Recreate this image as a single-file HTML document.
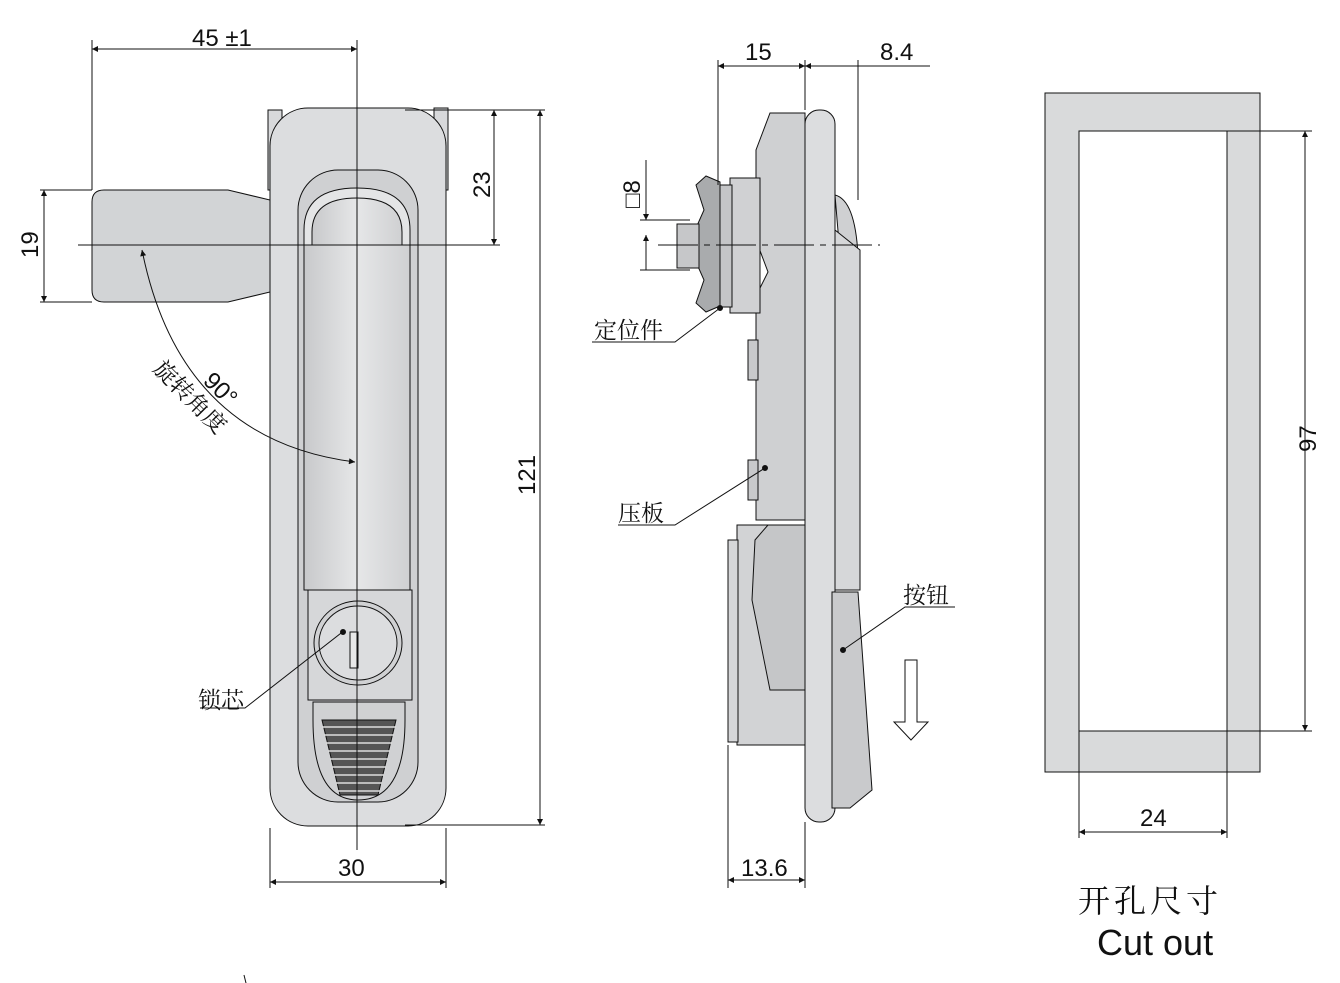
<!DOCTYPE html>
<html><head><meta charset="utf-8"><style>
html,body{margin:0;padding:0;background:#fff;width:1340px;height:983px;overflow:hidden}
text{font-family:"Liberation Sans","Noto Sans CJK SC",sans-serif;fill:#111}
.cn{font-family:"Noto Serif CJK SC","Noto Sans CJK SC",serif}
</style></head><body>
<svg width="1340" height="983" viewBox="0 0 1340 983" xmlns="http://www.w3.org/2000/svg">
<defs>
<marker id="a" viewBox="0 0 10 10" refX="10" refY="5" markerWidth="10" markerHeight="6" orient="auto-start-reverse" markerUnits="userSpaceOnUse"><path d="M0,0 L10,5 L0,10z" fill="#111"/></marker>
<linearGradient id="g" x1="0" x2="1"><stop offset="0" stop-color="#c8c9cb"/><stop offset=".5" stop-color="#e6e7e8"/><stop offset="1" stop-color="#cfd0d2"/></linearGradient>
</defs>
<g stroke="#111" stroke-width="1" fill="none">
<!-- LEFT VIEW -->
<path d="M92,202 Q92,190 104,190 L228,190 L270,200 L270,292 L228,302 L104,302 Q92,302 92,290 Z" fill="#d2d4d6"/>
<rect x="268" y="110" width="14" height="80" fill="#d8d9db"/>
<rect x="434" y="108" width="14" height="82" fill="#d8d9db"/>
<rect x="270" y="108" width="176" height="718" rx="38" fill="#dcdddf"/>
<rect x="298" y="170" width="120" height="632" rx="40" fill="#cfd0d2"/>
<path d="M304,245 L304,230 Q304,188 357,188 Q410,188 410,230 L410,245" fill="#e4e5e6"/>
<path d="M312,245 L312,232 Q312,198 357,198 Q402,198 402,232 L402,245" fill="url(#g)"/>
<rect x="304" y="245" width="106" height="345" fill="url(#g)"/>
<rect x="308" y="590" width="104" height="110" fill="#d6d7d9"/>
<ellipse cx="358" cy="643" rx="44" ry="42" fill="#d0d1d3"/>
<ellipse cx="358" cy="643" rx="39" ry="37" fill="#dcdddf"/>
<rect x="350" y="632" width="8" height="36" fill="#e8e8e8"/>
<path d="M313,702 L405,702 L405,720 Q405,800 358,800 Q313,800 313,720 Z" fill="#d0d1d3"/>
<path d="M322,720 L396,720 L378,795 L340,795 Z" fill="#555"/>
<g stroke="#ddd" stroke-width="1.5"><path d="M322,727H396M324,735H394M326,743H392M328,751H390M330,759H388M332,767H386M334,775H384M336,783H382M338,791H380"/></g>
<path d="M357,40 V850"/>
<path d="M78,245 H500"/>
<path d="M92,190 V40 M92,190 H40 M92,302 H40 M270,828 V888 M446,828 V888"/>
<path d="M405,110 H545 M405,825 H545"/>
<line x1="92" y1="49" x2="357" y2="49" marker-start="url(#a)" marker-end="url(#a)"/>
<line x1="44" y1="190" x2="44" y2="302" marker-start="url(#a)" marker-end="url(#a)"/>
<line x1="270" y1="882" x2="446" y2="882" marker-start="url(#a)" marker-end="url(#a)"/>
<line x1="494" y1="110" x2="494" y2="245" marker-start="url(#a)" marker-end="url(#a)"/>
<line x1="540" y1="110" x2="540" y2="825" marker-start="url(#a)" marker-end="url(#a)"/>
<path d="M142,250 Q180,440 355,462" marker-start="url(#a)" marker-end="url(#a)"/>
<path d="M200,708 H245 L345,630"/><circle cx="343" cy="632" r="2.5" fill="#111"/>
<!-- MIDDLE VIEW -->
<path d="M737,525 L805,525 L805,745 L737,745 Z" fill="#d2d3d5"/>
<rect x="728" y="540" width="10" height="202" fill="#d6d7d9"/>
<path d="M770,113 L805,113 L805,520 L756,520 L756,296 L768,272 L756,240 L756,150 Z" fill="#cfd0d2"/>
<path d="M768,525 L805,525 L805,690 L770,690 L752,600 L755,540 Z" fill="#c5c6c8"/>
<rect x="730" y="178" width="30" height="135" fill="#d0d1d3"/>
<rect x="718" y="185" width="14" height="122" fill="#c4c5c7"/>
<path d="M696,185 L706,176 L720,182 L720,306 L706,312 L696,303 L704,280 L696,262 L696,228 L704,210 Z" fill="#a9abad"/>
<rect x="677" y="224" width="22" height="44" fill="#c6c7c9"/>
<rect x="748" y="340" width="10" height="40" fill="#c8c9cb"/>
<rect x="748" y="460" width="10" height="40" fill="#c8c9cb"/>
<rect x="805" y="110" width="30" height="712" rx="14" fill="#dcdddf"/>
<path d="M835,195 Q855,200 858,255 L840,255 Z" fill="#cfd0d2"/>
<path d="M835,230 L860,250 L860,590 L835,590 Z" fill="#d6d7d9"/>
<path d="M832,592 L858,592 L872,790 L850,808 L832,808 Z" fill="#c9cacc"/>
<path d="M658,245 H880" stroke-dasharray="40,6,6,6"/>
<path d="M718,60 V185 M805,60 V110 M858,60 V200 M728,745 V888 M805,822 V888 M640,220 H690 M640,270 H690"/>
<line x1="718" y1="66" x2="805" y2="66" marker-start="url(#a)" marker-end="url(#a)"/>
<line x1="805" y1="66" x2="858" y2="66" marker-start="url(#a)"/>
<line x1="858" y1="66" x2="930" y2="66"/>
<line x1="728" y1="880" x2="805" y2="880" marker-start="url(#a)" marker-end="url(#a)"/>
<line x1="646" y1="160" x2="646" y2="220" marker-end="url(#a)"/>
<line x1="646" y1="270" x2="646" y2="235" marker-end="url(#a)"/>
<path d="M592,342 H675 L720,308"/><circle cx="720" cy="308" r="2.5" fill="#111"/>
<path d="M618,525 H675 L765,468"/><circle cx="765" cy="468" r="2.5" fill="#111"/>
<path d="M955,607 H905 L843,650"/><circle cx="843" cy="650" r="2.5" fill="#111"/>
<path d="M905,660 H917 V722 H928 L911,740 L894,722 H905 Z" fill="#fff"/>
<!-- RIGHT CUTOUT -->
<rect x="1045" y="93" width="215" height="679" fill="#d9dadb"/>
<rect x="1079" y="131" width="148" height="600" fill="#fff"/>
<path d="M1227,131 H1312 M1227,731 H1312 M1079,731 V838 M1227,731 V838"/>
<line x1="1305" y1="131" x2="1305" y2="731" marker-start="url(#a)" marker-end="url(#a)"/>
<line x1="1079" y1="832" x2="1227" y2="832" marker-start="url(#a)" marker-end="url(#a)"/>
<path d="M244,975 L247,987"/>
</g>
<g font-size="24">
<text x="192" y="46">45 ±1</text>
<text x="338" y="876">30</text>
<text x="741" y="876">13.6</text>
<text x="745" y="60">15</text>
<text x="880" y="60">8.4</text>
<text x="1140" y="826">24</text>
<text transform="translate(38,258) rotate(-90)">19</text>
<text transform="translate(490,198) rotate(-90)">23</text>
<text transform="translate(535,495) rotate(-90)">121</text>
<text transform="translate(1316,452) rotate(-90)">97</text>
<text transform="translate(640,208) rotate(-90)">□8</text>
<text transform="translate(202,382) rotate(45)">90°</text>
</g>
<g font-size="23">
<text class="cn" transform="translate(152,370) rotate(45)">旋转角度</text>
<text class="cn" x="198" y="708">锁芯</text>
<text class="cn" x="594" y="338">定位件</text>
<text class="cn" x="618" y="521">压板</text>
<text class="cn" x="903" y="603">按钮</text>
<text class="cn" x="1078" y="912" font-size="32" letter-spacing="4">开孔尺寸</text>
</g>
<text x="1097" y="955" font-size="36">Cut out</text>
</svg>
</body></html>
